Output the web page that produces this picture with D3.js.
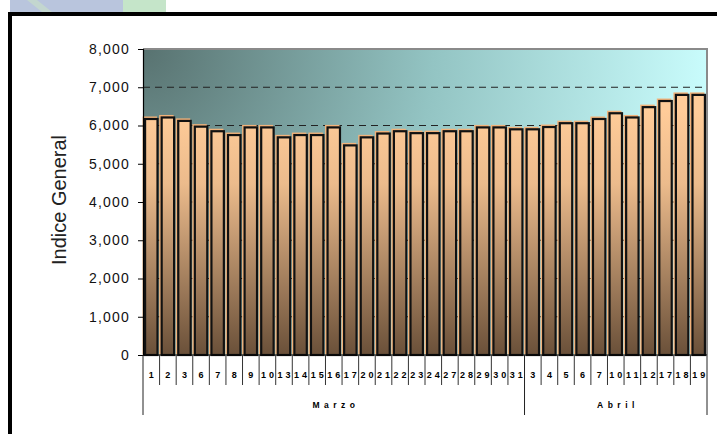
<!DOCTYPE html>
<html>
<head>
<meta charset="utf-8">
<script src="https://cdn.jsdelivr.net/npm/d3@7"></script>
<style>
  body { margin: 0; background: #fff; }
  svg { display: block; font-family: Arial, "Liberation Sans", sans-serif; }
</style>
</head>
<body>
<svg id="chart" width="717" height="434"></svg>
<script>
// categories (trading days) and values
const marzoDays = ['1','2','3','6','7','8','9','10','13','14','15','16','17','20','21','22','23','24','27','28','29','30','31'];
const abrilDays = ['3','4','5','6','7','10','11','12','17','18','19'];
const marzoValues = [6170,6210,6120,5970,5850,5750,5950,5950,5690,5750,5750,5950,5480,5690,5790,5850,5800,5800,5850,5850,5950,5950,5900];
const abrilValues = [5900,5960,6060,6060,6170,6320,6210,6480,6640,6800,6800];
const groupNames = ['Marzo', 'Abril'];
const yTicks = [0,1000,2000,3000,4000,5000,6000,7000,8000];

const rows = [];
marzoDays.forEach((d, i) => rows.push({ day: d, group: 'Marzo', value: marzoValues[i] }));
abrilDays.forEach((d, i) => rows.push({ day: d, group: 'Abril', value: abrilValues[i] }));

const svg = d3.select("#chart");
const plot = { left: 143, right: 707, top: 49, bottom: 355 };

// decoration peeking above the frame
svg.append("rect").attr("x", 10).attr("y", 0).attr("width", 113).attr("height", 12).attr("fill", "#b9c5dd");
svg.append("polygon").attr("points", "27,0 37,0 52,12 42,12").attr("fill", "#c3d6cf");
svg.append("rect").attr("x", 123).attr("y", 0).attr("width", 43).attr("height", 12).attr("fill", "#c5e5c9");

// outer frame
svg.append("rect")
  .attr("x", 10).attr("y", 14)
  .attr("width", 800).attr("height", 500)
  .attr("fill", "#fff").attr("stroke", "#000").attr("stroke-width", 4);

const defs = svg.append("defs");
const bg = defs.append("radialGradient").attr("id", "bg")
  .attr("gradientUnits", "userSpaceOnUse")
  .attr("cx", plot.left).attr("cy", plot.top).attr("r", 580);
bg.append("stop").attr("offset", 0).attr("stop-color", "#587270");
bg.append("stop").attr("offset", 0.5).attr("stop-color", "#93c4c3");
bg.append("stop").attr("offset", 1).attr("stop-color", "#ccffff");

const barGrad = defs.append("linearGradient").attr("id", "barfill")
  .attr("gradientUnits", "userSpaceOnUse")
  .attr("x1", 0).attr("y1", 110).attr("x2", 0).attr("y2", plot.bottom);
barGrad.append("stop").attr("offset", 0).attr("stop-color", "#ffcc99");
barGrad.append("stop").attr("offset", 0.3).attr("stop-color", "#ecbb8c");
barGrad.append("stop").attr("offset", 1).attr("stop-color", "#6a5039");

const x = d3.scaleBand()
  .domain(d3.range(rows.length))
  .range([plot.left, plot.right])
  .paddingInner(0.25)
  .paddingOuter(0.125);

const y = d3.scaleLinear().domain([0, 8000]).range([plot.bottom, plot.top]);

// plot background
svg.append("rect")
  .attr("x", plot.left).attr("y", plot.top)
  .attr("width", plot.right - plot.left).attr("height", plot.bottom - plot.top)
  .attr("fill", "url(#bg)");

// dashed gridlines
svg.append("g")
  .selectAll("line")
  .data(yTicks.filter(t => t > 0 && t < 8000))
  .join("line")
  .attr("x1", plot.left).attr("x2", plot.right)
  .attr("y1", d => y(d)).attr("y2", d => y(d))
  .attr("stroke", "#222").attr("stroke-width", 1.2)
  .attr("stroke-dasharray", "7,5");

// bars: peach offset highlight, then the bar itself
const bars = svg.append("g");
bars.selectAll("rect.hi")
  .data(rows)
  .join("rect")
  .attr("class", "hi")
  .attr("x", (d, i) => x(i) - 1.5)
  .attr("y", d => y(d.value) - 1.5)
  .attr("width", x.bandwidth())
  .attr("height", d => plot.bottom - y(d.value))
  .attr("fill", "none")
  .attr("stroke", "#f2b27a").attr("stroke-width", 2);
bars.selectAll("rect.bar")
  .data(rows)
  .join("rect")
  .attr("class", "bar")
  .attr("x", (d, i) => x(i))
  .attr("y", d => y(d.value))
  .attr("width", x.bandwidth())
  .attr("height", d => plot.bottom - y(d.value))
  .attr("fill", "url(#barfill)")
  .attr("stroke", "#111").attr("stroke-width", 2.2);

// gray frame top/right
svg.append("path")
  .attr("d", `M${plot.left},${plot.top}H${plot.right}V${plot.bottom}`)
  .attr("fill", "none").attr("stroke", "#8a8a8a").attr("stroke-width", 2);

// y axis
const yAxis = svg.append("g")
  .attr("transform", `translate(${plot.left},0)`)
  .call(d3.axisLeft(y).tickValues(yTicks).tickSize(5).tickPadding(8).tickFormat(d3.format(",")));
yAxis.select(".domain").attr("stroke", "#000").attr("stroke-width", 1.2);
yAxis.selectAll(".tick line").attr("stroke", "#000");
yAxis.selectAll(".tick text")
  .attr("font-size", 14).attr("fill", "#111")
  .attr("letter-spacing", "1.2px")
  .attr("font-family", "Arial, 'Liberation Sans', sans-serif");

svg.append("text")
  .attr("transform", `translate(66,200) rotate(-90)`)
  .attr("text-anchor", "middle")
  .attr("font-size", 20)
  .attr("fill", "#222")
  .text("Indice General");

// x axis: baseline, category separators, labels
const step = x.step();
const edge = i => plot.left + i * step;
svg.append("line")
  .attr("x1", plot.left).attr("x2", plot.right)
  .attr("y1", plot.bottom).attr("y2", plot.bottom)
  .attr("stroke", "#000").attr("stroke-width", 1.2);

const xg = svg.append("g");
xg.selectAll("line.sep")
  .data(d3.range(1, rows.length).filter(i => i !== marzoDays.length))
  .join("line")
  .attr("class", "sep")
  .attr("x1", d => edge(d)).attr("x2", d => edge(d))
  .attr("y1", plot.bottom).attr("y2", 385)
  .attr("stroke", "#333").attr("stroke-width", 1);

const groupEdges = [0, marzoDays.length, rows.length];
xg.selectAll("line.grp")
  .data(groupEdges)
  .join("line")
  .attr("class", "grp")
  .attr("x1", d => edge(d)).attr("x2", d => edge(d))
  .attr("y1", plot.bottom).attr("y2", 415)
  .attr("stroke", "#222").attr("stroke-width", 1);

xg.selectAll("text.day")
  .data(rows)
  .join("text")
  .attr("class", "day")
  .attr("x", (d, i) => x(i) + x.bandwidth() / 2 + 1.5)
  .attr("y", 378)
  .attr("text-anchor", "middle")
  .attr("font-size", 9).attr("font-weight", "bold")
  .attr("letter-spacing", "3px")
  .text(d => d.day);

xg.selectAll("text.grp")
  .data(groupNames)
  .join("text")
  .attr("class", "grp")
  .attr("x", (d, i) => (edge(groupEdges[i]) + edge(groupEdges[i + 1])) / 2 + 2.2)
  .attr("y", 408)
  .attr("text-anchor", "middle")
  .attr("font-size", 8.5).attr("font-weight", "bold")
  .attr("letter-spacing", "4.5px")
  .text(d => d);
</script>
</body>
</html>
